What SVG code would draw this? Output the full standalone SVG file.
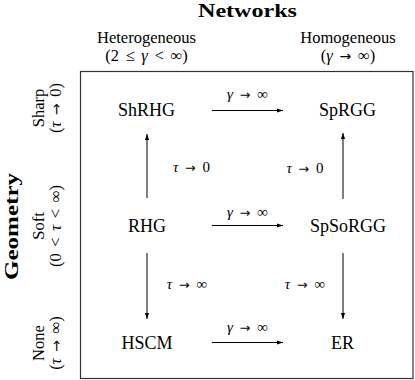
<svg xmlns="http://www.w3.org/2000/svg" width="415" height="380" viewBox="0 0 415 380">
<defs>
<marker id="ah" viewBox="0 0 10 10" refX="10" refY="5" markerWidth="6" markerHeight="6" markerUnits="userSpaceOnUse" orient="auto">
<path d="M0,1.5 L10,5 L0,8.5 z" fill="#000"/>
</marker>
<style>
text{font-family:"Liberation Serif","DejaVu Serif",serif;fill:#000}
.node{font-size:18px;text-anchor:middle}
.lbl{font-size:15px;text-anchor:middle;word-spacing:3px}
.hdr{font-size:16.5px;text-anchor:middle}
.mh{word-spacing:2.5px}
.ttl{font-size:19px;font-weight:bold;text-anchor:middle}
.m{font-style:italic}
.a{font-family:"DejaVu Sans",sans-serif;font-size:0.85em}
.edge{stroke:#000;stroke-width:1;fill:none;marker-end:url(#ah)}
</style>
</defs>
<rect x="80.5" y="71.5" width="332.5" height="307" fill="none" stroke="#333" stroke-width="1.2"/>
<text class="ttl" x="247.5" y="17" textLength="99" lengthAdjust="spacingAndGlyphs">Networks</text>
<text class="hdr" x="146.5" y="43">Heterogeneous</text>
<text class="hdr mh" x="146.5" y="61">(2 ≤ <tspan class="m">γ</tspan> &lt; ∞)</text>
<text class="hdr" x="348" y="43">Homogeneous</text>
<text class="hdr mh" x="348" y="61">(<tspan class="m">γ</tspan> <tspan class="a">→</tspan> ∞)</text>
<text class="ttl" transform="translate(17.5,226.5) rotate(-90)" textLength="107" lengthAdjust="spacingAndGlyphs">Geometry</text>
<text class="hdr" transform="translate(44,108) rotate(-90)">Sharp</text>
<text class="hdr mh" transform="translate(61,108) rotate(-90)">(<tspan class="m">τ</tspan> <tspan class="a">→</tspan> 0)</text>
<text class="hdr" transform="translate(44,226) rotate(-90)">Soft</text>
<text class="hdr mh" transform="translate(61,226) rotate(-90)">(0 &lt; <tspan class="m">τ</tspan> &lt; ∞)</text>
<text class="hdr" transform="translate(44,343) rotate(-90)">None</text>
<text class="hdr mh" transform="translate(61,343) rotate(-90)">(<tspan class="m">τ</tspan> <tspan class="a">→</tspan> ∞)</text>
<g id="connectors">
<line class="edge" x1="212" y1="110.5" x2="283" y2="110.5"/>
<line class="edge" x1="212" y1="225.5" x2="283" y2="225.5"/>
<line class="edge" x1="212" y1="342.5" x2="283" y2="342.5"/>
<line class="edge" x1="147" y1="198" x2="147" y2="134"/>
<line class="edge" x1="147" y1="253" x2="147" y2="319"/>
<line class="edge" x1="343" y1="199" x2="343" y2="133"/>
<line class="edge" x1="343" y1="253" x2="343" y2="319"/>
<text class="lbl" x="247.5" y="99"><tspan class="m">γ</tspan> <tspan class="a">→</tspan> ∞</text>
<text class="lbl" x="247.5" y="217"><tspan class="m">γ</tspan> <tspan class="a">→</tspan> ∞</text>
<text class="lbl" x="247.5" y="332"><tspan class="m">γ</tspan> <tspan class="a">→</tspan> ∞</text>
<text class="lbl" x="191.5" y="172"><tspan class="m">τ</tspan> <tspan class="a">→</tspan> 0</text>
<text class="lbl" x="305" y="173"><tspan class="m">τ</tspan> <tspan class="a">→</tspan> 0</text>
<text class="lbl" x="187" y="289"><tspan class="m">τ</tspan> <tspan class="a">→</tspan> ∞</text>
<text class="lbl" x="305" y="289"><tspan class="m">τ</tspan> <tspan class="a">→</tspan> ∞</text>
</g>
<g id="ShRHG"><text class="node" x="146.5" y="116">ShRHG</text></g>
<g id="SpRGG"><text class="node" x="347.5" y="116">SpRGG</text></g>
<g id="RHG"><text class="node" x="147" y="232">RHG</text></g>
<g id="SpSoRGG"><text class="node" x="348" y="232">SpSoRGG</text></g>
<g id="HSCM"><text class="node" x="147" y="349">HSCM</text></g>
<g id="ER"><text class="node" x="342.5" y="349">ER</text></g>
</svg>
